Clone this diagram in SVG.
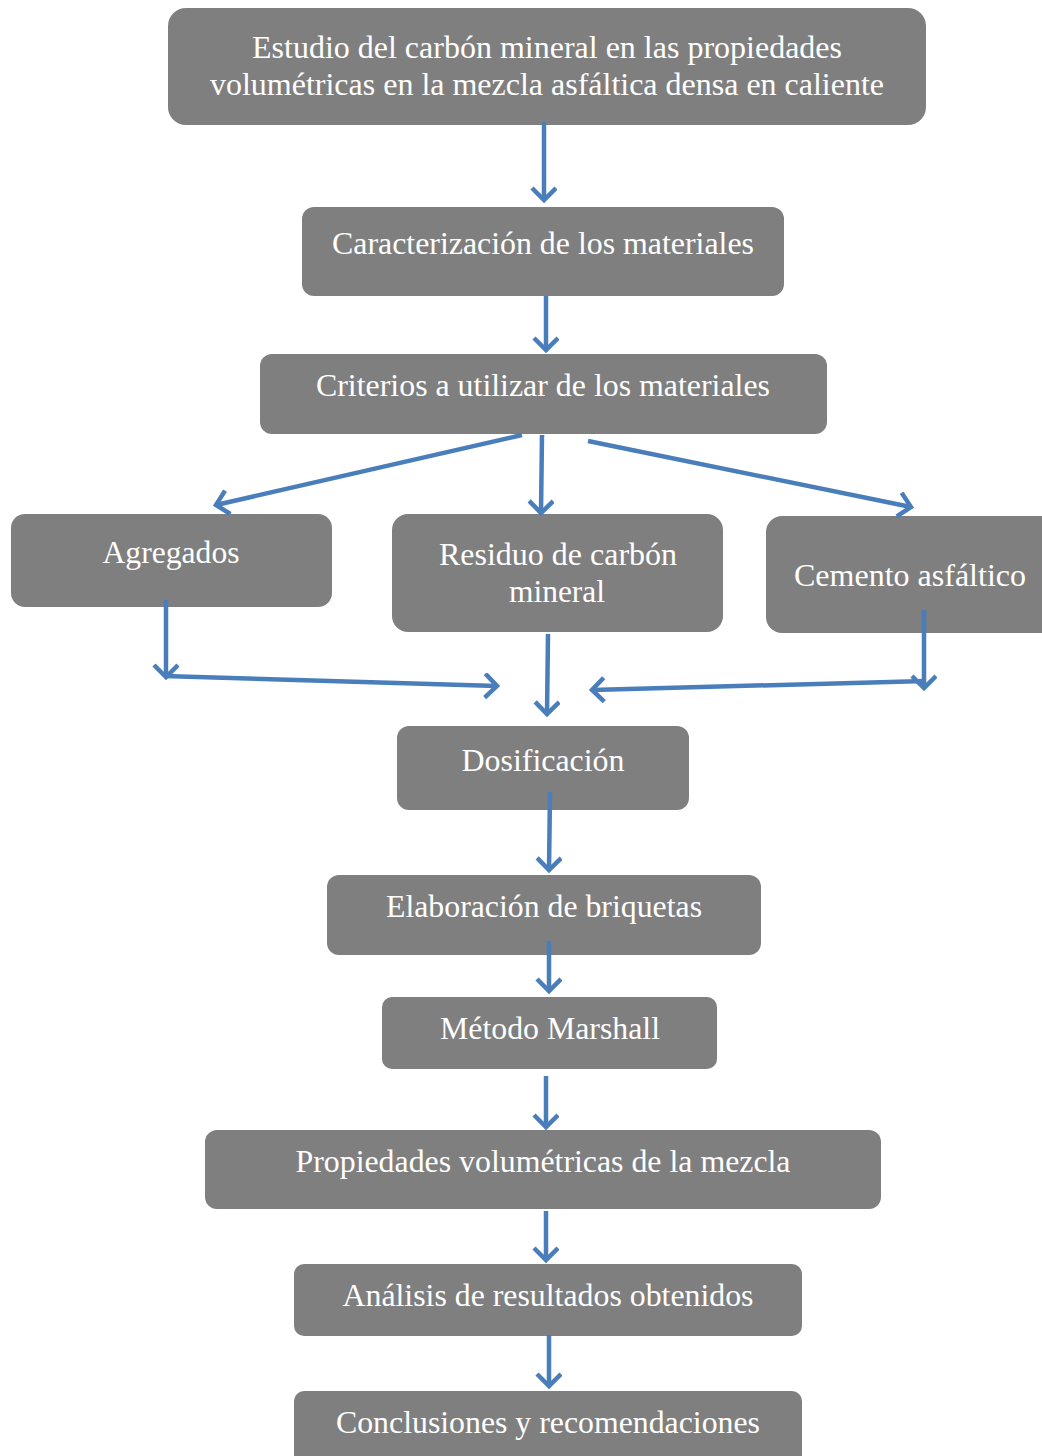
<svg xmlns="http://www.w3.org/2000/svg" width="1042" height="1456" viewBox="0 0 1042 1456">
<defs>
<style>
.box{fill:#7f7f7f;}
.t{font-family:"Liberation Serif","Times New Roman",serif;font-size:32px;fill:#ffffff;text-anchor:middle;}
.c{fill:none;stroke:#4a7ebb;stroke-width:4.5;stroke-linecap:butt;}
</style>
<marker id="ah" markerUnits="userSpaceOnUse" markerWidth="30" markerHeight="30" refX="14" refY="13" orient="auto" viewBox="0 0 30 30">
<path d="M2,1 L14,13 L2,25" fill="none" stroke="#4a7ebb" stroke-width="4.5"/>
</marker>
</defs>
<rect width="1042" height="1456" fill="#ffffff"/>

<g id="n1"><rect class="box" x="168" y="8" width="758" height="117" rx="18"/>
<text class="t" x="547" y="58" textLength="590" lengthAdjust="spacingAndGlyphs">Estudio del carbón mineral en las propiedades</text>
<text class="t" x="547" y="95" textLength="674" lengthAdjust="spacingAndGlyphs">volumétricas en la mezcla asfáltica densa en caliente</text></g>

<g id="n2"><rect class="box" x="302" y="207" width="482" height="89" rx="12"/>
<text class="t" x="543" y="254" textLength="422" lengthAdjust="spacingAndGlyphs">Caracterización de los materiales</text></g>

<g id="n3"><rect class="box" x="260" y="354" width="567" height="80" rx="12"/>
<text class="t" x="543" y="396" textLength="454" lengthAdjust="spacingAndGlyphs">Criterios a utilizar de los materiales</text></g>

<g id="n4"><rect class="box" x="11" y="514" width="321" height="93" rx="14"/>
<text class="t" x="171" y="563" textLength="137" lengthAdjust="spacingAndGlyphs">Agregados</text></g>

<g id="n5"><rect class="box" x="392" y="514" width="331" height="118" rx="16"/>
<text class="t" x="558" y="565" textLength="238" lengthAdjust="spacingAndGlyphs">Residuo de carbón</text>
<text class="t" x="557" y="602" textLength="96" lengthAdjust="spacingAndGlyphs">mineral</text></g>

<g id="n6"><rect class="box" x="766" y="516" width="300" height="117" rx="16"/>
<text class="t" x="910" y="586" textLength="232" lengthAdjust="spacingAndGlyphs">Cemento asfáltico</text></g>

<g id="n7"><rect class="box" x="397" y="726" width="292" height="84" rx="12"/>
<text class="t" x="543" y="771" textLength="163" lengthAdjust="spacingAndGlyphs">Dosificación</text></g>

<g id="n8"><rect class="box" x="327" y="875" width="434" height="80" rx="12"/>
<text class="t" x="544" y="917" textLength="316" lengthAdjust="spacingAndGlyphs">Elaboración de briquetas</text></g>

<g id="n9"><rect class="box" x="382" y="997" width="335" height="72" rx="10"/>
<text class="t" x="550" y="1039" textLength="220" lengthAdjust="spacingAndGlyphs">Método Marshall</text></g>

<g id="n10"><rect class="box" x="205" y="1130" width="676" height="79" rx="12"/>
<text class="t" x="543" y="1172" textLength="495" lengthAdjust="spacingAndGlyphs">Propiedades volumétricas de la mezcla</text></g>

<g id="n11"><rect class="box" x="294" y="1264" width="508" height="72" rx="10"/>
<text class="t" x="548" y="1306" textLength="411" lengthAdjust="spacingAndGlyphs">Análisis de resultados obtenidos</text></g>

<g id="n12"><rect class="box" x="294" y="1391" width="508" height="80" rx="10"/>
<text class="t" x="548" y="1433" textLength="424" lengthAdjust="spacingAndGlyphs">Conclusiones y recomendaciones</text></g>

<g id="connectors">
<line class="c" x1="544" y1="122" x2="544" y2="200" marker-end="url(#ah)"/>
<line class="c" x1="546" y1="296" x2="546" y2="350" marker-end="url(#ah)"/>
<line class="c" x1="522" y1="435" x2="216" y2="505" marker-end="url(#ah)"/>
<line class="c" x1="542" y1="435" x2="541" y2="513" marker-end="url(#ah)"/>
<line class="c" x1="588" y1="441" x2="911" y2="507" marker-end="url(#ah)"/>
<line class="c" x1="166" y1="600" x2="166" y2="677" marker-end="url(#ah)"/>
<line class="c" x1="164" y1="676" x2="497" y2="686" marker-end="url(#ah)"/>
<line class="c" x1="548" y1="634" x2="547" y2="714" marker-end="url(#ah)"/>
<line class="c" x1="924" y1="610" x2="924" y2="688" marker-end="url(#ah)"/>
<line class="c" x1="926" y1="681" x2="592" y2="690" marker-end="url(#ah)"/>
<line class="c" x1="550" y1="792" x2="549" y2="870" marker-end="url(#ah)"/>
<line class="c" x1="549" y1="941" x2="549" y2="991" marker-end="url(#ah)"/>
<line class="c" x1="546" y1="1076" x2="546" y2="1127" marker-end="url(#ah)"/>
<line class="c" x1="546" y1="1211" x2="546" y2="1260" marker-end="url(#ah)"/>
<line class="c" x1="549" y1="1335" x2="549" y2="1386" marker-end="url(#ah)"/>
</g>
</svg>
